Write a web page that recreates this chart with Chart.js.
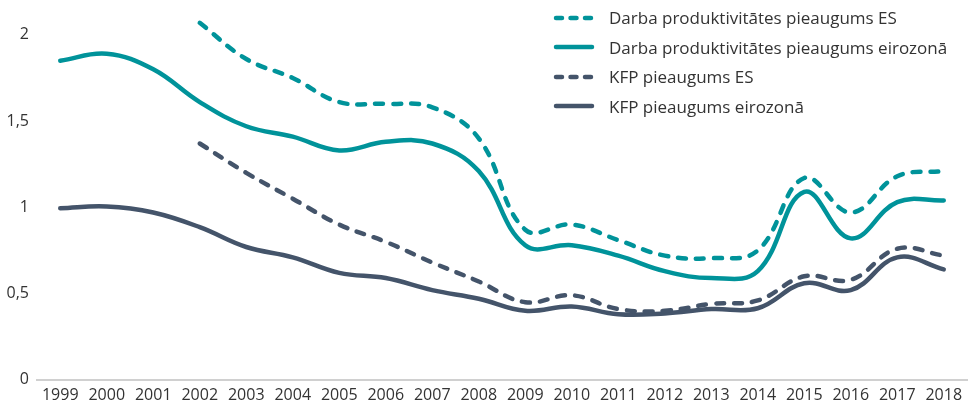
<!DOCTYPE html>
<html>
<head>
<meta charset="utf-8">
<script src="https://cdn.jsdelivr.net/npm/chart.js@4.4.1/dist/chart.umd.min.js"></script>
<style>
  html, body { margin: 0; padding: 0; background: #fff; }
  #wrap { position: relative; width: 971px; height: 411px; }
  #legend { position: absolute; left: 553px; top: 3px; font-family: "Open Sans", sans-serif; font-size: 17px; color: #333; }
  #legend .row { height: 29.5px; display: flex; align-items: center; white-space: nowrap; }
  #legend canvas { margin-right: 14px; }
</style>
</head>
<body>
<div id="wrap">
  <canvas id="myChart" width="971" height="411"></canvas>
  <div id="legend"></div>
</div>
<script>
var years = ['1999','2000','2001','2002','2003','2004','2005','2006','2007','2008',
             '2009','2010','2011','2012','2013','2014','2015','2016','2017','2018'];
var darbaES = [null, null, null, 2.07, 1.86, 1.75, 1.61, 1.60, 1.58, 1.40,
               0.87, 0.90, 0.81, 0.72, 0.705, 0.75, 1.17, 0.97, 1.18, 1.21];
var darbaEiro = [1.85, 1.89, 1.80, 1.61, 1.47, 1.41, 1.33, 1.38, 1.37, 1.21,
                 0.78, 0.78, 0.72, 0.63, 0.59, 0.63, 1.09, 0.82, 1.03, 1.04];
var kfpES = [null, null, null, 1.37, 1.20, 1.05, 0.90, 0.80, 0.68, 0.57,
             0.45, 0.49, 0.41, 0.40, 0.44, 0.46, 0.60, 0.58, 0.76, 0.72];
var kfpEiro = [0.995, 1.005, 0.97, 0.885, 0.77, 0.71, 0.62, 0.59, 0.52, 0.47,
               0.40, 0.425, 0.38, 0.385, 0.41, 0.415, 0.56, 0.52, 0.71, 0.64];
var seriesNames = ['Darba produktivitātes pieaugums ES', 'Darba produktivitātes pieaugums eirozonā',
                   'KFP pieaugums ES', 'KFP pieaugums eirozonā'];

var teal = '#00939a';
var slate = '#44546a';
var dash = [8, 10];
var tickFont = { family: '"Open Sans", sans-serif', size: 16 };

function makeSet(label, data, color, dashed) {
    return {
        label: label,
        data: data,
        borderColor: color,
        backgroundColor: color,
        borderWidth: 4.5,
        borderDash: dashed ? dash : [],
        borderCapStyle: 'round',
        pointRadius: 0,
        tension: 0.4,
        spanGaps: false,
        fill: false
    };
}

var ctx = document.getElementById('myChart').getContext('2d');
var myChart = new Chart(ctx, {
    type: 'line',
    data: {
        labels: years,
        datasets: [
            makeSet(seriesNames[0], darbaES, teal, true),
            makeSet(seriesNames[1], darbaEiro, teal, false),
            makeSet(seriesNames[2], kfpES, slate, true),
            makeSet(seriesNames[3], kfpEiro, slate, false)
        ]
    },
    options: {
        responsive: false,
        animation: false,
        layout: { padding: { top: 12, right: 4, bottom: 0, left: 0 } },
        plugins: { legend: { display: false }, tooltip: { enabled: false } },
        scales: {
            x: {
                offset: true,
                grid: { display: false, drawTicks: false },
                border: { display: true, color: '#d0d0d0', width: 2 },
                ticks: {
                    color: '#333',
                    padding: 6,
                    maxRotation: 0,
                    autoSkip: false,
                    font: tickFont
                }
            },
            y: {
                min: 0,
                max: 2.1,
                grid: { display: false, drawTicks: false },
                border: { display: false },
                afterFit: function (scale) { scale.width = 37; },
                ticks: {
                    stepSize: 0.5,
                    includeBounds: false,
                    color: '#333',
                    padding: 8,
                    font: tickFont,
                    callback: function (v) { return String(v).replace('.', ','); }
                }
            }
        }
    }
});

// legend in html so it can sit over the plot, top right
var legend = document.getElementById('legend');
myChart.data.datasets.forEach(function (ds) {
    var row = document.createElement('div');
    row.className = 'row';
    var c = document.createElement('canvas');
    c.width = 42; c.height = 8;
    var g = c.getContext('2d');
    g.strokeStyle = ds.borderColor;
    g.lineWidth = 4.5;
    g.lineCap = 'round';
    if (ds.borderDash.length) g.setLineDash([6, 8.5]);
    g.beginPath(); g.moveTo(3, 4); g.lineTo(39, 4); g.stroke();
    var t = document.createElement('span');
    t.textContent = ds.label;
    row.appendChild(c);
    row.appendChild(t);
    legend.appendChild(row);
});
</script>
</body>
</html>
